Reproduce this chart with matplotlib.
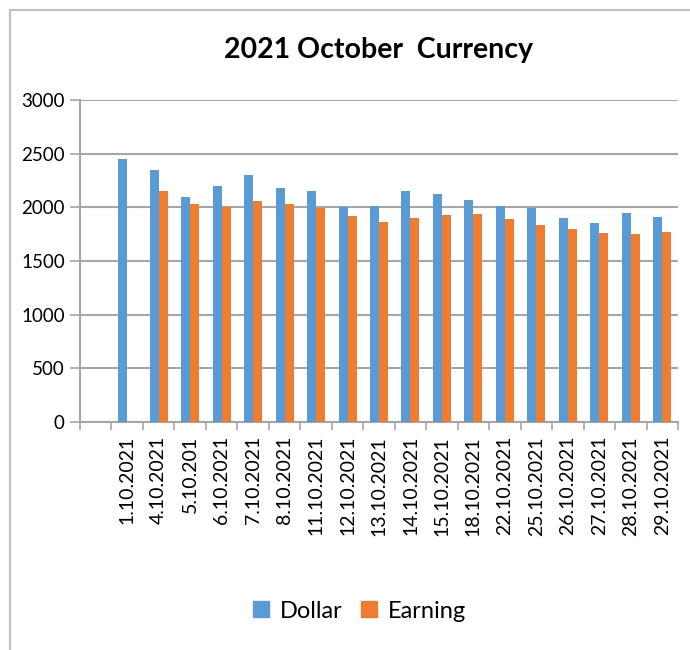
import numpy as np
import matplotlib
matplotlib.use("Agg")
import matplotlib.pyplot as plt
from matplotlib.patches import Rectangle
from matplotlib.lines import Line2D

plt.rcParams['font.family'] = ['Lato', 'DejaVu Sans']

# data
dates = ['1.10.2021', '4.10.2021', '5.10.201', '6.10.2021', '7.10.2021',
         '8.10.2021', '11.10.2021', '12.10.2021', '13.10.2021', '14.10.2021',
         '15.10.2021', '18.10.2021', '22.10.2021', '25.10.2021', '26.10.2021',
         '27.10.2021', '28.10.2021', '29.10.2021']
dollar = [2450, 2350, 2100, 2200, 2300, 2180, 2150, 2000, 2015, 2150,
          2120, 2070, 2010, 1990, 1900, 1850, 1950, 1910]
earning = [np.nan, 2150, 2030, 2005, 2060, 2030, 1990, 1915, 1860, 1900,
           1930, 1940, 1890, 1840, 1800, 1760, 1750, 1770]
yticks = [0, 500, 1000, 1500, 2000, 2500, 3000]

blue = '#5B9BD5'
orange = '#ED7D31'
grid_col = '#A6A6A6'

fig = plt.figure(figsize=(6.9, 6.5), dpi=100)
ax = fig.add_axes([80/690, 1-422/650, 598/690, 322/650])

# chart border (only left and top visible in the reference)
fig.patches.append(Rectangle((10/690, -0.1), 1.2, 1 - 10/650 + 0.1,
                             transform=fig.transFigure, fill=False,
                             edgecolor='#BFBFBF', linewidth=1.5))

# the first category is empty, dates start at position 1
x = np.arange(1, len(dates) + 1)
w = 0.286
ax.bar(x - w/2, dollar, w, color=blue, label='Dollar', zorder=3)
ax.bar(x + w/2, earning, w, color=orange, label='Earning', zorder=3)

ax.set_xlim(-0.5, len(dates) + 0.5)
ax.set_ylim(0, 3000)
ax.set_yticks(yticks)
ax.yaxis.grid(True, color=grid_col, linewidth=1.5, zorder=0)

ax.set_xticks(np.arange(-0.5, len(dates) + 1, 1))
ax.set_xticklabels([])
ax.set_xticks(x, minor=True)
ax.set_xticklabels(dates, minor=True, rotation=90, fontsize=14)
ax.tick_params(axis='x', which='major', length=6, width=1.2, color=grid_col)
ax.tick_params(axis='x', which='minor', length=0, pad=10)
ax.tick_params(axis='y', length=7, width=1.2, color=grid_col, labelsize=13.5, pad=4)

for side in ['top', 'right']:
    ax.spines[side].set_visible(False)
for side in ['left', 'bottom']:
    ax.spines[side].set_color(grid_col)
    ax.spines[side].set_linewidth(1.5)

fig.text(379/690, 1-50/650, '2021 October  Currency', ha='center', va='center',
         fontsize=20.5, fontweight='bold')

handles = [Line2D([], [], marker='s', linestyle='', markersize=11, color=blue),
           Line2D([], [], marker='s', linestyle='', markersize=11, color=orange)]
fig.legend(handles, ['Dollar', 'Earning'], loc='center',
           bbox_to_anchor=(360/690, 1-611/650), ncol=2,
           frameon=False, fontsize=17, handlelength=0.6,
           columnspacing=0.8, handletextpad=0.5)

fig.savefig('out.png', dpi=100)
